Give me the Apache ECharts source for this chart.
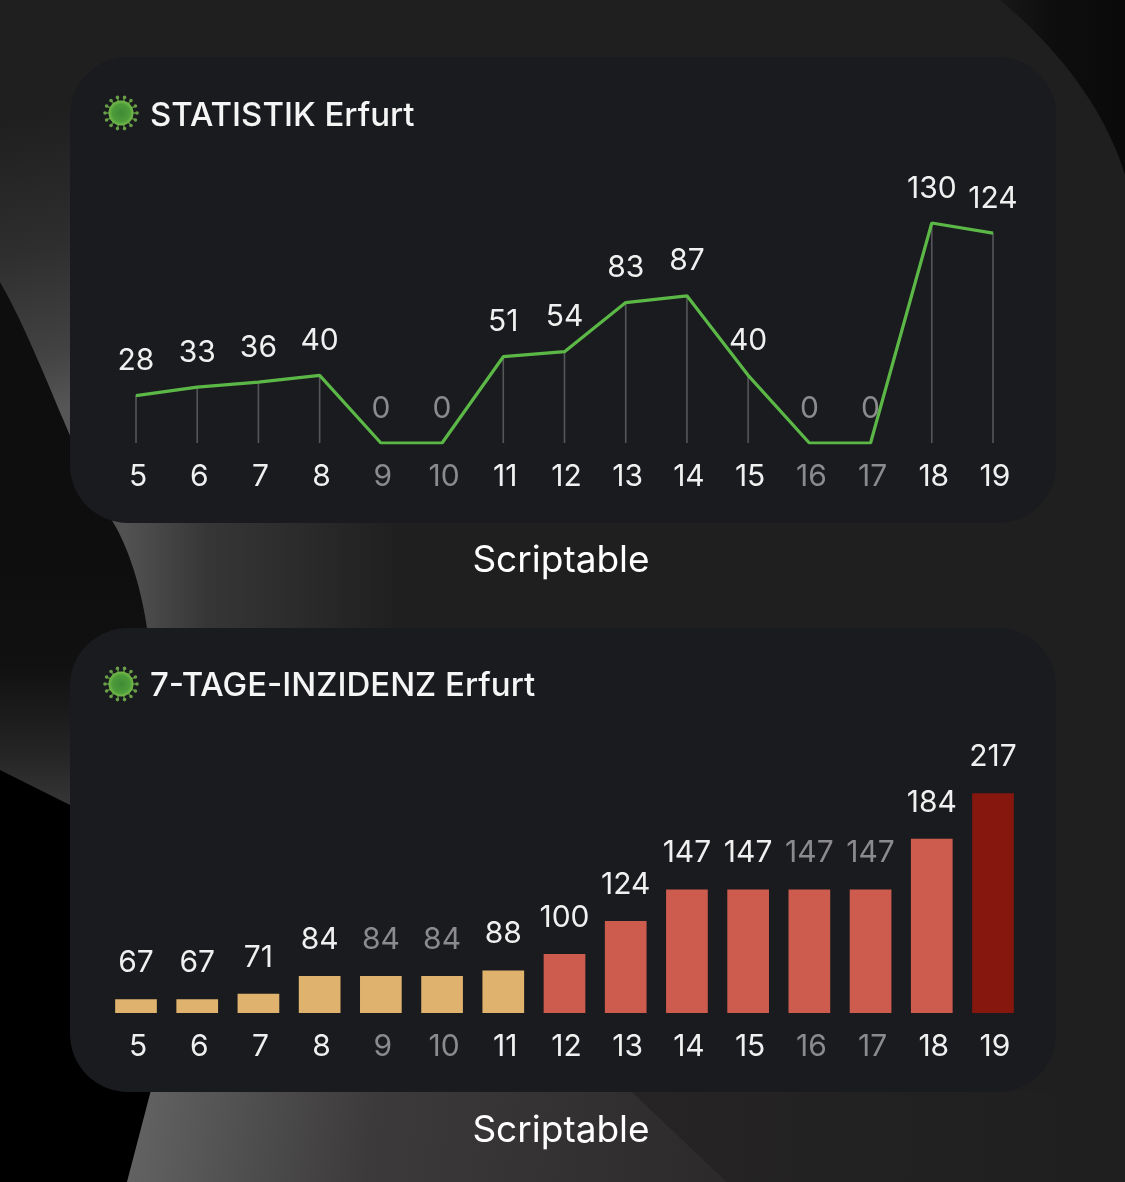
<!DOCTYPE html>
<html><head><meta charset="utf-8">
<style>html,body{margin:0;padding:0;background:#000}#c{width:1125px;height:1182px}</style>
<script src="https://cdn.jsdelivr.net/npm/echarts@6/dist/echarts.min.js"></script>
</head><body><div id="c"></div>
<script>
const days = ['5','6','7','8','9','10','11','12','13','14','15','16','17','18','19'];
const weekendDays = ['9','10','16','17'];
const cases = [28,33,36,40,0,0,51,54,83,87,40,0,0,130,124];
const incidence = [67,67,71,84,84,84,88,100,124,147,147,147,147,184,217];
const titleCases = 'STATISTIK Erfurt';
const titleIncidence = '7-TAGE-INZIDENZ Erfurt';
const caption = 'Scriptable';

const FONT = 'Inter, "Noto Sans", sans-serif';
const WHITE = '#f0f0f0', GRAY = '#8b8b8e';
const labelColor = d => weekendDays.includes(d) ? GRAY : WHITE;
const barColor = v => v <= 88 ? '#dfb26d' : v <= 184 ? '#cd5c4e' : '#85170f';

function lin(x, y, x2, y2, stops) {
  return {type:'linear', x, y, x2, y2, global:true,
    colorStops: stops.map(s => ({offset:s[0], color:s[1]}))};
}
// Decorative wallpaper outlines: M/L/C commands flattened to a polygon.
function flatten(d) {
  const t = d.trim().split(/\s+/);
  const pts = [];
  let i = 0, cur = [0,0];
  const n = () => parseFloat(t[i++]);
  while (i < t.length) {
    let tok = t[i];
    const cmd = tok[0];
    if (cmd === 'Z') { i++; continue; }
    t[i] = tok.slice(1);
    if (cmd === 'M' || cmd === 'L') { cur = [n(), n()]; pts.push(cur); }
    else if (cmd === 'C') {
      const a = [n(),n()], b = [n(),n()], c = [n(),n()];
      for (let k = 1; k <= 24; k++) {
        const u = k/24, v = 1-u;
        pts.push([v*v*v*cur[0]+3*v*v*u*a[0]+3*v*u*u*b[0]+u*u*u*c[0],
                  v*v*v*cur[1]+3*v*v*u*a[1]+3*v*u*u*b[1]+u*u*u*c[1]]);
      }
      cur = c;
    }
  }
  return pts;
}
function path(d, fill) {
  return {type:'polygon', silent:true, shape:{points:flatten(d)}, style:{fill}};
}
function virus(cx, cy) {
  const els = [];
  for (let i = 0; i < 14; i++) {
    const a = i / 14 * Math.PI * 2;
    const c = Math.cos(a), s = Math.sin(a);
    els.push({type:'line', silent:true, shape:{x1:cx + 11*c, y1:cy + 11*s, x2:cx + 15.5*c, y2:cy + 15.5*s},
      style:{stroke:'#4f8a38', lineWidth:1.6}});
    els.push({type:'circle', silent:true, shape:{cx:cx + 16*c, cy:cy + 16*s, r:1.8}, style:{fill:'#6a9e48'}});
  }
  els.push({type:'circle', silent:true, shape:{cx, cy, r:12.5},
    style:{fill:{type:'radial', x:0.5, y:0.5, r:0.5, colorStops:[
      {offset:0, color:'#3f8a35'}, {offset:0.7, color:'#4d9c3a'}, {offset:1, color:'#78bc4c'}]}}});
  return els;
}
const background = [
  {type:'rect', silent:true, shape:{x:0, y:0, width:1125, height:1182}, style:{fill:'#000'}},
  path('M990 0 L1125 0 L1125 200 Z', lin(1000,60,1125,60,[[0,'#181818'],[0.4,'#0e0e0e'],[1,'#0a0a0a']])),
  path('M0 270 L260 560 L260 900 L0 770 Z', lin(0,560,0,800,[[0,'#0e0e0e'],[0.45,'#111111'],[0.8,'#242424'],[1,'#343434']])),
  path('M0 0 L1000 0 C1060 50 1105 110 1125 175 L1125 1182 L127 1182 L151 1093 L147 628 C140 580 125 540 111 519 C90 470 40 350 0 282 Z', '#1f1f1f'),
  path('M0 0 L72 0 L72 440 C50 390 25 325 0 282 Z', lin(0,120,60,410,[[0,'#1f1f1f'],[0.45,'#2e2e2e'],[0.8,'#424242'],[1,'#565656']])),
  path('M111 519 C125 540 140 580 147 628 L430 628 L430 519 Z', lin(125,0,400,0,[[0,'#525252'],[0.3,'#363636'],[1,'#1f1f1f']])),
  path('M151 1090 L127 1182 L727 1182 L630 1090 Z', lin(140,1100,720,1182,[[0,'#626262'],[0.4,'#3c3a3a'],[1,'#2c2a2a']])),
  path('M630 1090 L727 1182 L1125 1182 L1125 1090 Z', lin(630,0,1125,0,[[0,'#262424'],[1,'#1f1f1f']])),
  {type:'rect', silent:true, shape:{x:70, y:57, width:986, height:466, r:58}, style:{fill:'#1a1b1f'}},
  {type:'rect', silent:true, shape:{x:70, y:628, width:986, height:464, r:58}, style:{fill:'#1a1b1f'}}
];

const xAxisBase = {
  type:'category', data:days,
  axisLine:{show:false}, axisTick:{show:false}, splitLine:{show:false},
  axisLabel:{fontFamily:FONT, fontSize:30, margin:19, padding:[0,0,0,4], interval:0,
    color:(v)=>labelColor(v)}
};
const titleStyle = {fontFamily:FONT, fontSize:33, fontWeight:500, color:'#f5f5f5'};
const captionStyle = {fontFamily:FONT, fontSize:37, fontWeight:400, color:'#ffffff'};

const chart = echarts.init(document.getElementById('c'), null, {renderer:'canvas'});
chart.setOption({
  animation:false,
  backgroundColor:'#000',
  graphic:{elements: background.concat(virus(121,113), virus(121,684))},
  title:[
    {text:titleCases, left:150, top:100, textStyle:titleStyle, padding:0},
    {text:titleIncidence, left:150, top:670, textStyle:titleStyle, padding:0},
    {text:caption, left:561, top:542, textAlign:'center', textStyle:captionStyle, padding:0},
    {text:caption, left:561, top:1112, textAlign:'center', textStyle:captionStyle, padding:0}
  ],
  grid:[
    {left:105.4, width:918.2, top:189.2, height:253.8},
    {left:105.4, width:918.2, top:779.6, height:233.4}
  ],
  xAxis:[
    Object.assign({gridIndex:0}, xAxisBase),
    Object.assign({gridIndex:1}, xAxisBase)
  ],
  yAxis:[
    {gridIndex:0, type:'value', min:0, max:150, show:false, splitLine:{show:false}},
    {gridIndex:1, type:'value', min:57, max:227, show:false, splitLine:{show:false}}
  ],
  series:[
    {type:'bar', xAxisIndex:0, yAxisIndex:0, data:cases, barWidth:1.6, silent:true, z:1,
      itemStyle:{color:'#55565a'}},
    {type:'line', xAxisIndex:0, yAxisIndex:0, z:3, smooth:false, showSymbol:true, showAllSymbol:true,
      symbol:'circle', symbolSize:1, lineStyle:{color:'#5cb846', width:3.2}, itemStyle:{color:'#5cb846'},
      data:cases.map((v,i)=>({value:v, label:{color:labelColor(days[i])}})),
      label:{show:true, position:'top', distance:19, fontFamily:FONT, fontSize:30}},
    {type:'bar', xAxisIndex:1, yAxisIndex:1, barWidth:41.7,
      data:incidence.map((v,i)=>({value:v, itemStyle:{color:barColor(v)}, label:{color:labelColor(days[i])}})),
      label:{show:true, position:'top', distance:21, fontFamily:FONT, fontSize:30}}
  ]
});
</script></body></html>
